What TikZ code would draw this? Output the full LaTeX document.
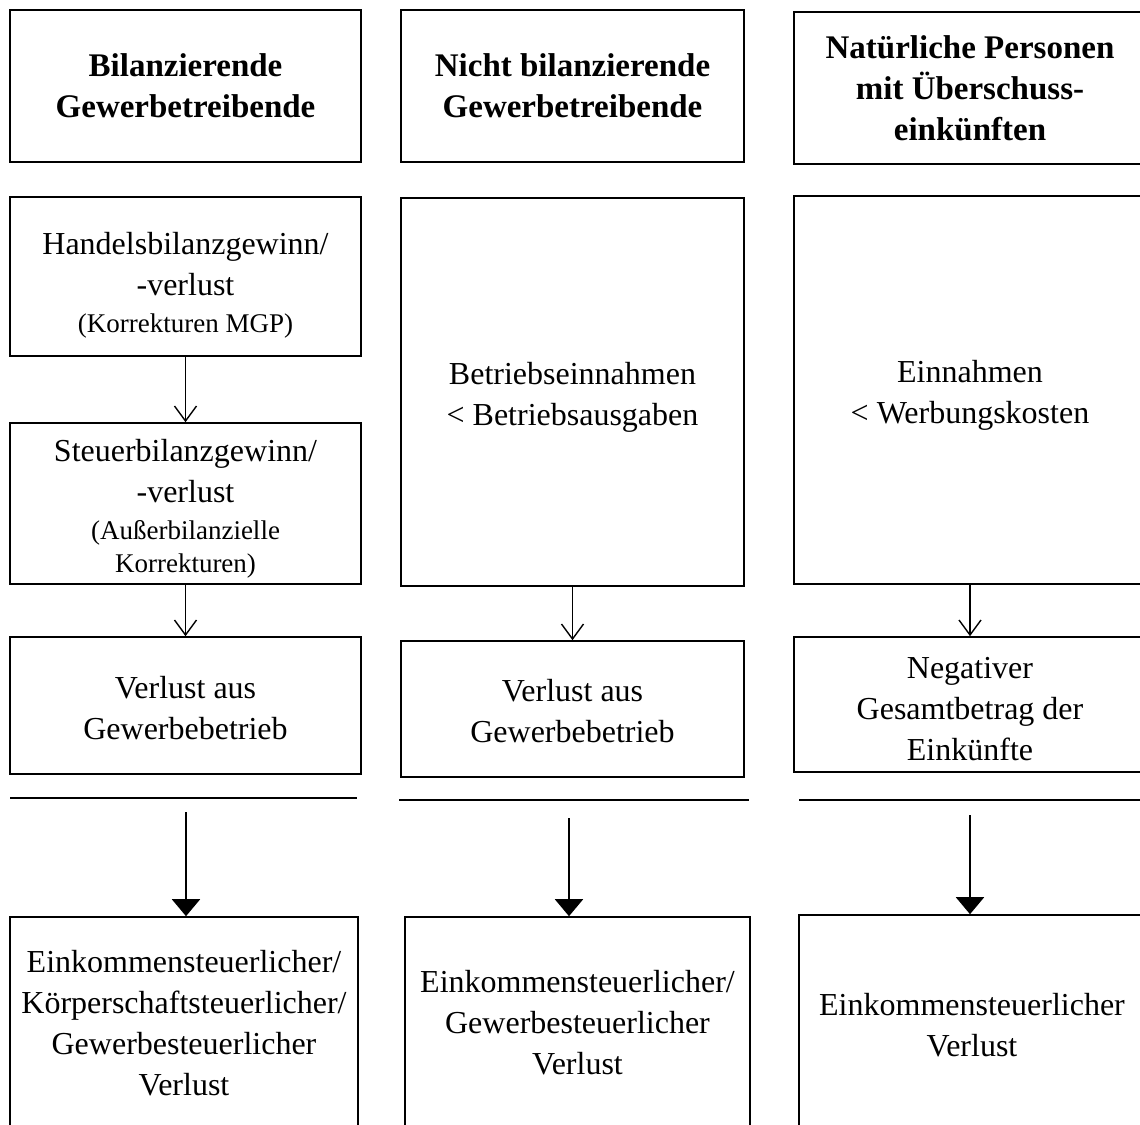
\documentclass[tikz,border=0pt]{standalone}
\usepackage{fontspec}
\setmainfont{Liberation Serif}
\usetikzlibrary{arrows.meta}
\newcommand\smalltxt{\fontsize{13.5}{16}\selectfont}
% invisible strut that lowers a node's text block a little
\newcommand\padtop[1]{\rule{0pt}{#1}}
\begin{document}
\begin{tikzpicture}[x=0.5pt,y=-0.5pt,
  every node/.style={inner sep=0pt},
  box/.style={draw, line width=0.8pt, align=center, font=\fontsize{16}{20.5}\selectfont},
  head/.style={box, font=\fontsize{16.5}{20.5}\selectfont\bfseries},
  thinarrow/.style={line width=0.7pt, -{Straight Barb[length=7.5pt,width=11pt]}},
  boldarrow/.style={line width=1pt, -{Triangle[length=8.5pt,width=14pt]}},
  rule/.style={line width=1pt}]
\useasboundingbox (0,0) rectangle (1140,1124);
\clip (0,0) rectangle (1140,1124);

% column 1: bilanzierende Gewerbetreibende
\node[head, minimum width=175.5pt, minimum height=76pt] (h1) at (185.5,86)
  {Bilanzierende\\Gewerbetreibende};
\node[box, minimum width=175.5pt, minimum height=79.5pt] (p1) at (185.5,276.5)
  {\padtop{20pt}Handelsbilanzgewinn/\\-verlust\\[-2pt]{\smalltxt (Korrekturen MGP)}};
\node[box, minimum width=175.5pt, minimum height=80.5pt] (p2) at (185.5,503.5)
  {\padtop{16pt}Steuerbilanzgewinn/\\-verlust\\[-2pt]{\smalltxt (Außerbilanzielle}\\[-4pt]{\smalltxt Korrekturen)}};
\node[box, minimum width=175.5pt, minimum height=68.5pt] (v1) at (185.5,705.5)
  {\padtop{14pt}Verlust aus\\Gewerbebetrieb};
\node[box, minimum width=174pt, minimum height=106pt] (e1) at (184,1023)
  {Einkommensteuerlicher/\\Körperschaftsteuerlicher/\\Gewerbesteuerlicher\\Verlust};

% column 2: nicht bilanzierende Gewerbetreibende
\node[head, minimum width=171.5pt, minimum height=76pt] (h2) at (572.5,86)
  {Nicht bilanzierende\\Gewerbetreibende};
\node[box, minimum width=171.5pt, minimum height=194pt] (p3) at (572.5,392)
  {\padtop{16pt}Betriebseinnahmen\\< Betriebsausgaben};
\node[box, minimum width=171.5pt, minimum height=68pt] (v2) at (572.5,709)
  {\padtop{13pt}Verlust aus\\Gewerbebetrieb};
\node[box, minimum width=172.5pt, minimum height=106pt] (e2) at (577.5,1023)
  {Einkommensteuerlicher/\\Gewerbesteuerlicher\\Verlust};

% column 3: natürliche Personen mit Überschusseinkünften
\node[head, minimum width=176pt, minimum height=76pt] (h3) at (970,88)
  {Natürliche Personen\\mit Überschuss-\\einkünften};
\node[box, minimum width=176pt, minimum height=194pt] (p4) at (970,390)
  {\padtop{16pt}Einnahmen\\< Werbungskosten};
\node[box, minimum width=176pt, minimum height=67.5pt] (v3) at (970,704.5)
  {\padtop{15.5pt}Negativer\\Gesamtbetrag der\\Einkünfte};
\node[box, minimum width=173pt, minimum height=107pt] (e3) at (972,1022)
  {\padtop{14.5pt}Einkommensteuerlicher\\Verlust};

% derivation arrows
\draw[thinarrow] (p1) -- (p2);
\draw[thinarrow] (p2) -- (v1);
\draw[thinarrow] (p3) -- (v2);
\draw[thinarrow] (p4) -- (v3);

% separating rules
\coordinate (r1a) at (10,798);  \coordinate (r1b) at (357,798);
\coordinate (r2a) at (399,800); \coordinate (r2b) at (749,800);
\coordinate (r3a) at (799,800); \coordinate (r3b) at (1140,800);
\draw[rule] (r1a) -- (r1b);
\draw[rule] (r2a) -- (r2b);
\draw[rule] (r3a) -- (r3b);

% result arrows
\coordinate (s1) at (186,812);
\coordinate (s2) at (569,818);
\coordinate (s3) at (970,815);
\draw[boldarrow] (s1) -- (s1 |- e1.north);
\draw[boldarrow] (s2) -- (s2 |- e2.north);
\draw[boldarrow] (s3) -- (s3 |- e3.north);
\end{tikzpicture}
\end{document}
